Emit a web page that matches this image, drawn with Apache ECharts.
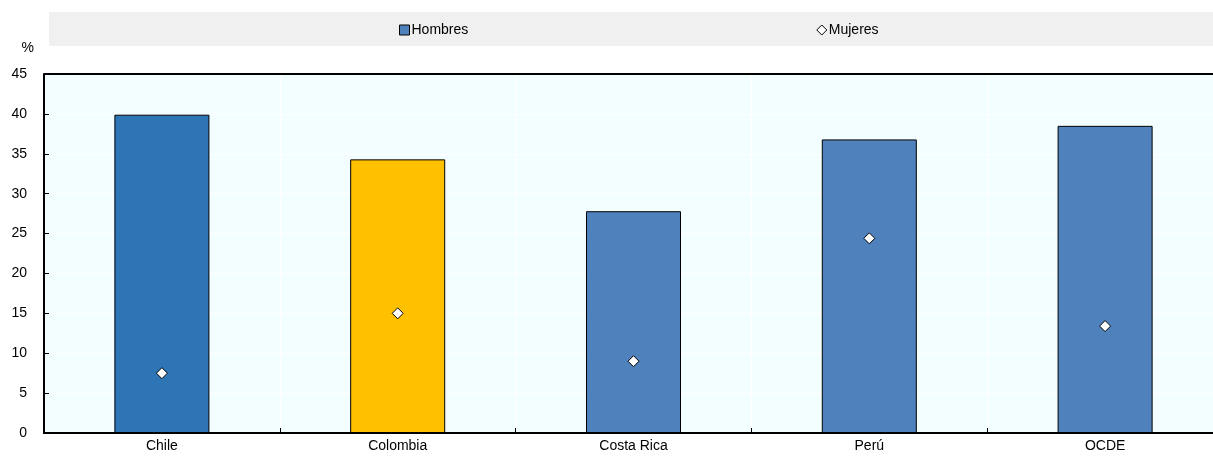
<!DOCTYPE html>
<html>
<head>
<meta charset="utf-8">
<script src="https://cdn.jsdelivr.net/npm/echarts@6/dist/echarts.min.js"></script>
<style>
  html, body { margin: 0; padding: 0; background: #fff; overflow: hidden; }
  #chart { width: 1213px; height: 457px; }
</style>
</head>
<body>
<div id="chart"></div>
<script>
// Share of men and women (%)
const categories = ['Chile', 'Colombia', 'Costa Rica', 'Perú', 'OCDE'];
const hombres = [39.9, 34.3, 27.8, 36.8, 38.5];
const mujeres = [7.5, 15.0, 9.0, 24.4, 13.4];
const yTicks = [0, 5, 10, 15, 20, 25, 30, 35, 40, 45];

const barColors = {
  'Chile': '#2E75B6',
  'Colombia': '#FFC000'
};
const defaultBar = '#4F81BD';

const font = 'Liberation Sans, Arial, sans-serif';

const chart = echarts.init(document.getElementById('chart'));
chart.setOption({
  animation: false,
  textStyle: { fontFamily: font },
  legend: {
    top: 18,
    left: 394,
    itemGap: 348,
    itemWidth: 10,
    itemHeight: 10,
    textStyle: { fontSize: 14, color: '#000', fontFamily: font, padding: [0, 0, 0, -3] },
    data: [
      { name: 'Hombres', icon: 'rect', itemStyle: { color: defaultBar, borderColor: '#000', borderWidth: 1 } },
      { name: 'Mujeres', icon: 'diamond', itemStyle: { color: '#fff', borderColor: '#000', borderWidth: 1 } }
    ]
  },
  // plot area runs slightly past the right edge of the canvas
  grid: {
    left: 44, right: -10, top: 74, bottom: 24,
    outerBoundsMode: 'none', containLabel: false,
    show: true, backgroundColor: '#F2FEFF', borderWidth: 0
  },
  xAxis: {
    type: 'category',
    data: categories,
    axisLine: { lineStyle: { color: '#000', width: 2 } },
    axisTick: { show: true, inside: true, length: 5, lineStyle: { color: '#000' } },
    axisLabel: { color: '#000', fontSize: 14, margin: 6 },
    splitLine: { show: true, lineStyle: { color: '#fff', width: 1 } }
  },
  yAxis: [{
    type: 'value',
    min: 0, max: 45, interval: 5,
    name: '%',
    nameLocation: 'end',
    nameGap: 19,
    nameTextStyle: { color: '#000', fontSize: 14, align: 'right', padding: [0, 10, 0, 0] },
    axisLine: { show: true, lineStyle: { color: '#000', width: 2 } },
    axisTick: { show: true, inside: true, length: 5, lineStyle: { color: '#000' } },
    axisLabel: { color: '#000', fontSize: 14, margin: 17,
      formatter: v => yTicks.includes(v) ? String(v) : '' },
    splitLine: { show: true, lineStyle: { color: '#fff', width: 1 } }
  }],
  series: [
    {
      name: 'Hombres',
      type: 'bar',
      barWidth: '40.3%',
      data: hombres.map((v, i) => ({
        value: v,
        itemStyle: { color: barColors[categories[i]] || defaultBar, borderColor: '#000', borderWidth: 1 }
      })),
      z: 2
    },
    {
      name: 'Mujeres',
      type: 'scatter',
      symbol: 'diamond',
      symbolSize: 11,
      itemStyle: { color: '#fff', borderColor: '#000', borderWidth: 1, opacity: 1 },
      data: mujeres,
      z: 3
    }
  ]
});

// legend band and top border of the plot area
const gridRect = chart.getModel().getComponent('grid').coordinateSystem.getRect();
chart.setOption({
  graphic: [{
    type: 'rect',
    left: 49, top: 12,
    shape: { width: 1164, height: 34 },
    style: { fill: '#F0F0F0' },
    z: -1
  }, {
    type: 'line',
    shape: { x1: gridRect.x, y1: gridRect.y, x2: gridRect.x + gridRect.width, y2: gridRect.y },
    style: { stroke: '#000', lineWidth: 2 },
    z: 5
  }]
});
</script>
</body>
</html>
